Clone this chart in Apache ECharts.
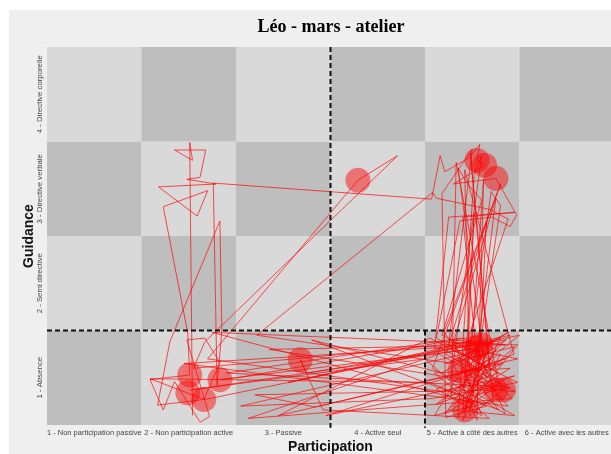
<!DOCTYPE html>
<html>
<head>
<meta charset="utf-8">
<script src="https://cdn.jsdelivr.net/npm/echarts@6/dist/echarts.min.js"></script>
<style>html,body{margin:0;padding:0;background:#fff}#c{width:611px;height:454px}</style>
</head>
<body>
<div id="c"></div>
<script>
const titleText = 'Léo - mars - atelier';
const participationLabels = ['1 - Non participation passive','2 - Non participation active','3 - Passive','4 - Active seul','5 - Active à côté des autres','6 - Active avec les autres'];
const guidanceLabels = ['1 - Absence','2 - Semi directive','3 - Directive verbale','4 - Directive corporelle'];
const xAxisName = 'Participation';
const yAxisName = 'Guidance';

const pathPoints = [
 [2.04,0.60],[2.01,3.49],[2.04,3.30],[1.85,3.41],[2.18,3.41],[2.12,3.12],[1.98,3.10],[2.29,3.05],[1.68,3.02],[2.09,2.71],[2.20,2.98],[1.73,2.81],[1.99,1.47],
 [2.01,1.03],[1.59,0.98],[1.73,0.66],[1.85,0.96],[2.12,0.53],[2.22,0.59],[1.98,1.40],[2.17,1.42],[2.33,1.16],[2.16,0.77],[1.67,0.71],[1.80,1.38],[2.33,2.66],[2.35,1.50],[2.30,0.92],
 [2.26,3.06],[4.57,2.89],[4.66,3.35],[4.71,3.18],[4.97,3.33],[5.08,3.47],[5.05,3.30],[5.13,3.25],[4.80,3.05],[5.25,3.11],[5.47,2.72],[5.40,2.60],[5.21,2.70],[4.87,2.66],[4.62,1.42],
 [4.98,1.21],[5.45,1.33],[4.70,0.62],[5.30,0.95],[4.92,0.66],[5.05,1.31],[2.33,0.98],[2.51,1.00],[5.10,1.45],[4.85,0.75],[5.40,1.10],[4.60,1.05],[5.18,0.57],[3.42,0.66],[3.18,1.19],[3.25,1.05],[5.35,1.40],
 [4.88,1.08],[5.25,0.87],[2.70,0.82],[3.34,0.69],[5.48,1.20],[4.75,1.35],[5.00,3.42],[4.68,2.95],[4.72,0.58],[5.15,0.70],[4.55,0.95],[1.59,0.99],[2.17,0.77],[5.50,1.45],[4.93,1.00],[5.20,2.97],[5.30,2.82],[4.97,0.60],
 [5.33,0.87],[4.65,1.25],[2.63,0.57],[5.42,0.78],[5.05,1.20],[4.90,2.70],[5.45,2.75],[4.75,2.70],[4.60,1.30],[5.00,1.40],[5.12,3.10],[5.05,0.55],[4.80,1.15],[2.72,1.45],[4.58,2.96],[4.62,2.90],[5.19,2.78],[5.38,2.68],[4.90,1.25],
 [5.28,1.05],[4.70,0.85],[2.20,1.20],[3.79,3.09],[4.21,3.35],[2.17,1.38],[2.05,1.10],[5.02,1.38],[5.35,0.62],[4.82,0.92],[4.50,1.20],[2.02,0.87],[4.95,1.30],[5.15,1.00],[4.85,3.22],[4.95,3.05],[5.10,2.88],[4.68,1.45],
 [5.22,1.18],[4.62,0.72],[5.45,1.02],[3.45,0.60],[5.05,1.10],[5.35,1.20],[4.78,1.02],[5.10,3.35],[5.02,3.15],[4.85,0.58],[5.25,1.30],[4.88,1.42],[2.40,1.05],[5.40,0.90],[4.95,0.80],[5.15,1.25],[4.72,1.15],[5.30,1.42],[4.92,0.66],
 [5.20,1.40],[4.75,0.66],[5.45,0.60],[4.58,1.10],[5.30,3.05],[4.70,1.48],[5.12,0.95],[2.85,1.30],[5.48,1.35],[4.90,0.62],[5.02,2.75],[4.95,1.18],[5.38,0.70],[1.95,1.15],[4.66,1.32],[5.27,0.98],[4.83,3.28],[4.78,0.80],
 [5.40,1.45],[3.05,0.95],[5.08,1.40],[4.60,0.60],[5.22,0.75],[4.98,3.38],[5.18,1.10],[4.55,1.42],[2.95,0.60],[5.32,1.15],[4.88,0.92],[5.46,0.85],[4.72,1.25],[5.15,2.65],[5.05,0.72],[2.25,1.48],[5.35,1.35],[4.80,1.40],
 [5.10,0.60],[4.62,0.88],[5.44,1.25],[4.92,3.20],[4.97,1.05],[5.28,0.66],[3.30,1.40],[4.68,1.05],[5.38,1.48],[4.85,1.20],[5.00,0.85],[5.25,2.90],[4.78,1.30],[5.48,0.95],[4.58,0.78],[2.55,0.70],[5.12,1.30],[4.90,0.55],
 [5.30,1.25],[4.75,0.98],[5.20,0.90]
];
// longer observations drawn as circles
const circlePoints = [
 [3.79,3.09],[5.05,3.30],[5.13,3.25],[5.25,3.11],[3.18,1.19],
 [2.01,1.03],[2.33,0.98],[1.99,0.84],[2.16,0.77],
 [5.05,1.31],[5.09,1.35],[4.87,1.08],[5.25,0.87],[5.33,0.87],[4.92,0.66]
];
// dashed separators
const separators = [
 [[3.5,4.5],[3.5,0.47]],
 [[0.5,1.5],[6.5,1.5]],
 [[4.5,1.5],[4.5,0.47]]
];

const cells = [];
for (let i = 1; i <= participationLabels.length; i++) {
  for (let j = 1; j <= guidanceLabels.length; j++) {
    cells.push([i, j, (i + j) % 2 === 0 ? 1 : 0]);
  }
}

const chart = echarts.init(document.getElementById('c'), null, {renderer: 'canvas'});
const series = [
  {
    type: 'custom', xAxisIndex: 1, yAxisIndex: 1, silent: true, z: 1,
    data: cells,
    renderItem: function (params, api) {
      const p1 = api.coord([api.value(0) - 0.5, api.value(1) + 0.5]);
      const p2 = api.coord([api.value(0) + 0.5, api.value(1) - 0.5]);
      return {type: 'rect', shape: {x: p1[0], y: p1[1], width: p2[0] - p1[0], height: p2[1] - p1[1]},
        style: {fill: api.value(2) ? '#bebebe' : '#d9d9d9'}};
    }
  },
  {
    type: 'line', xAxisIndex: 1, yAxisIndex: 1, data: pathPoints, showSymbol: false, symbol: 'none',
    lineStyle: {color: 'rgba(255,0,0,0.8)', width: 0.85}, z: 3, silent: true, animation: false
  },
  {
    type: 'scatter', xAxisIndex: 1, yAxisIndex: 1, data: circlePoints, symbolSize: 25,
    itemStyle: {color: 'rgba(255,0,0,0.58)'}, z: 4, silent: true
  }
];
separators.forEach(function (seg) {
  series.push({type: 'line', xAxisIndex: 1, yAxisIndex: 1, data: seg, symbol: 'none', clip: false, z: 5, silent: true,
    lineStyle: {color: '#111', width: 2, type: [5, 3]}});
});

chart.setOption({
  animation: false,
  backgroundColor: '#ffffff',
  graphic: [{type: 'rect', z: -10, silent: true, shape: {x: 9, y: 10, width: 602, height: 444}, style: {fill: '#efefef'}}],
  title: {text: titleText, left: 331, top: 18, padding: 0, textAlign: 'center',
    textStyle: {fontFamily: 'Liberation Serif', fontWeight: 'bold', fontSize: 18, color: '#000'}},
  grid: {left: 47, top: 47, width: 567, height: 378, containLabel: false, outerBoundsMode: 'none'},
  xAxis: [
    {type: 'category', data: participationLabels, position: 'bottom',
      axisLine: {show: false}, axisTick: {show: false}, splitLine: {show: false},
      axisLabel: {interval: 0, fontSize: 7.5, color: '#444', margin: 4, fontFamily: 'Liberation Sans'},
      name: xAxisName, nameLocation: 'middle', nameGap: 15, nameMoveOverlap: false,
      nameTextStyle: {fontSize: 14, fontWeight: 'bold', color: '#111', fontFamily: 'Liberation Sans'}},
    {type: 'value', min: 0.5, max: 6.5, show: false}
  ],
  yAxis: [
    {type: 'category', data: guidanceLabels,
      axisLine: {show: false}, axisTick: {show: false}, splitLine: {show: false},
      axisLabel: {interval: 0, rotate: 90, fontSize: 7.8, color: '#444', margin: 3, fontFamily: 'Liberation Sans'},
      name: yAxisName, nameLocation: 'middle', nameGap: 11, nameRotate: 90, nameMoveOverlap: false,
      nameTextStyle: {fontSize: 14, fontWeight: 'bold', color: '#111', fontFamily: 'Liberation Sans'}},
    {type: 'value', min: 0.5, max: 4.5, show: false}
  ],
  series: series
});
</script>
</body>
</html>
